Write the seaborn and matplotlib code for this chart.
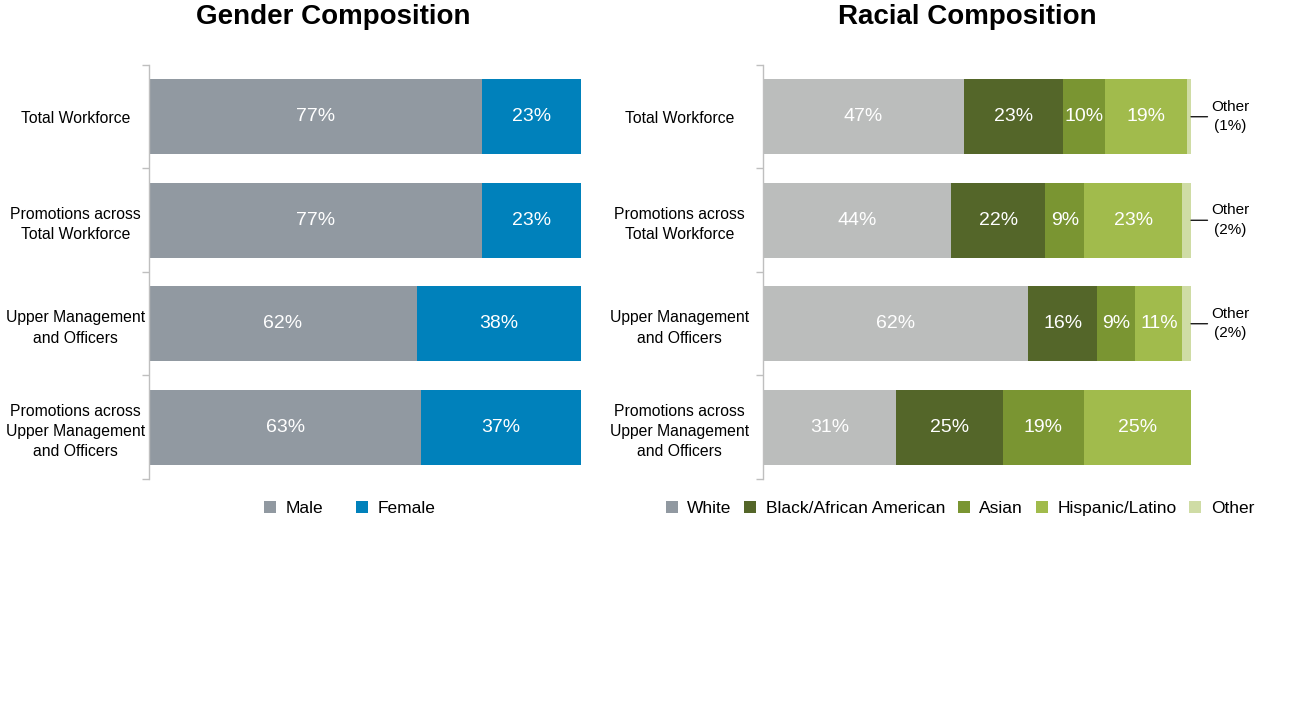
import matplotlib
matplotlib.use("Agg")
import matplotlib.pyplot as plt
from matplotlib.patches import Patch
import seaborn as sns
import pandas as pd
import numpy as np

# ---------------- data ----------------
categories = [
    "Total Workforce",
    "Promotions across\nTotal Workforce",
    "Upper Management\nand Officers",
    "Promotions across\nUpper Management\nand Officers",
]
gender_series = ["Male", "Female"]
male = [77, 77, 62, 63]
female = [23, 23, 38, 37]

race_series = ["White", "Black/African American", "Asian", "Hispanic/Latino", "Other"]
white = [47, 44, 62, 31]
black = [23, 22, 16, 25]
asian = [10, 9, 9, 19]
hispanic = [19, 23, 11, 25]
other = [1, 2, 2, 0]

gender_colors = ["#9199a1", "#0081bb"]
race_colors = ["#bbbdbc", "#546629", "#7a9532", "#a1bb4c", "#cfdca5"]
race_legend_colors = ["#9199a1", "#546629", "#7a9532", "#a1bb4c", "#cfdca5"]

# ---------------- style ----------------
sns.set_theme(style="white")
plt.rcParams["font.family"] = ["Liberation Sans", "DejaVu Sans"]
plt.rcParams["text.color"] = "black"
plt.rcParams["legend.labelcolor"] = "black"

W, H = 1296, 714
fig = plt.figure(figsize=(W / 100, H / 100), dpi=100)

ax_top = 65
ax_bot = 479
axL = fig.add_axes([149 / W, 1 - ax_bot / H, 432 / W, (ax_bot - ax_top) / H])
axR = fig.add_axes([763 / W, 1 - ax_bot / H, 428 / W, (ax_bot - ax_top) / H])

BAR_H = 0.72
LABEL_FS = 14
CAT_FS = 11.3


def stacked(ax, series_vals, colors, label_min=3):
    n = len(categories)
    arr = np.array(series_vals, dtype=float)  # shape (k, n)
    cum = np.cumsum(arr, axis=0)
    # draw cumulative bars from largest to smallest so segments show
    for k in range(arr.shape[0] - 1, -1, -1):
        df = pd.DataFrame({"cat": categories, "val": cum[k]})
        sns.barplot(data=df, y="cat", x="val", orient="h", color=colors[k],
                    saturation=1, width=BAR_H, errorbar=None, ax=ax,
                    edgecolor="none", linewidth=0)
    # labels
    for k in range(arr.shape[0]):
        start = cum[k] - arr[k]
        for i in range(n):
            v = arr[k][i]
            if v >= label_min:
                ax.text(start[i] + v / 2, i, f"{int(v)}%", color="white",
                        fontsize=LABEL_FS, ha="center", va="center")
    return cum


def style_axis(ax, pad_pt):
    ax.set_xlim(0, 100)
    ax.set_ylim(len(categories) - 0.5, -0.5)
    ax.set_xlabel("")
    ax.set_ylabel("")
    for s in ["top", "right", "bottom"]:
        ax.spines[s].set_visible(False)
    ax.spines["left"].set_color("#bfbfbf")
    ax.spines["left"].set_linewidth(1.0)
    ax.set_xticks([])
    ax.set_yticks(range(len(categories)))
    ax.set_yticklabels(categories)
    ax.tick_params(axis="y", which="major", length=0, pad=pad_pt,
                   labelsize=CAT_FS, labelcolor="black", left=True)
    for lab in ax.get_yticklabels():
        lab.set_ha("center")
        lab.set_multialignment("center")
        lab.set_linespacing(1.45)
    ax.set_yticks(np.arange(-0.5, len(categories), 1.0), minor=True)
    ax.tick_params(axis="y", which="minor", length=5, width=1.0,
                   color="#bfbfbf", direction="out", left=True)
    ax.set_facecolor("white")


# left panel
stacked(axL, [male, female], gender_colors)
style_axis(axL, 53)
axL.legend(handles=[Patch(facecolor=c, edgecolor="none", label=l)
                    for c, l in zip(gender_colors, gender_series)],
           loc="center", bbox_to_anchor=(0.465, -0.072), ncol=2, frameon=False,
           fontsize=12.5, handlelength=0.7, handleheight=0.7,
           handletextpad=0.55, columnspacing=1.9, labelcolor="black")

# right panel
cumR = stacked(axR, [white, black, asian, hispanic, other], race_colors)
style_axis(axR, 60)
for i in range(len(categories)):
    if other[i] > 0:
        axR.annotate(f"Other\n({other[i]}%)", xy=(cumR[-1][i], i),
                     xycoords="data", xytext=(1.091, i),
                     textcoords=axR.get_yaxis_transform(),
                     ha="center", va="center", fontsize=11, color="black",
                     linespacing=1.5, annotation_clip=False,
                     arrowprops=dict(arrowstyle="-", color="black", lw=0.9,
                                     shrinkA=0, shrinkB=0))
axR.legend(handles=[Patch(facecolor=c, edgecolor="none", label=l)
                    for c, l in zip(race_legend_colors, race_series)],
           loc="center", bbox_to_anchor=(0.46, -0.072), ncol=5, frameon=False,
           fontsize=12.5, handlelength=0.7, handleheight=0.7,
           handletextpad=0.55, columnspacing=0.72, labelcolor="black")

# titles
fig.text(333 / W, 1 - 17 / H, "Gender Composition", ha="center", va="center",
         fontsize=20, fontweight="bold", color="black")
fig.text(967 / W, 1 - 17 / H, "Racial Composition", ha="center", va="center",
         fontsize=20, fontweight="bold", color="black")

fig.savefig("out.png", dpi=100, facecolor="white")
